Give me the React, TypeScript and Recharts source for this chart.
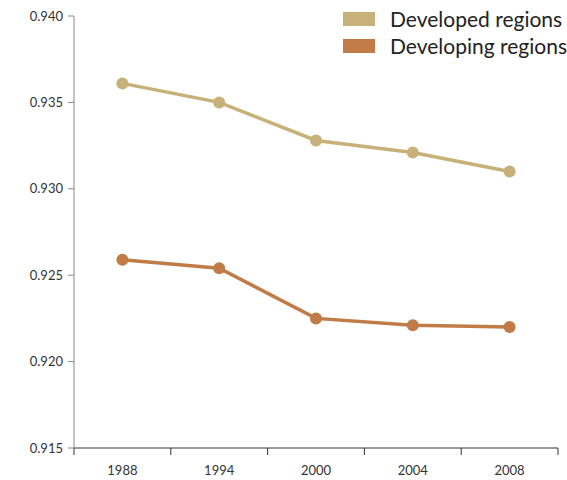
import React from "react";
import { LineChart, Line, XAxis, YAxis } from "recharts";

const categories = ["1988", "1994", "2000", "2004", "2008"];
const developed = [0.9361, 0.935, 0.9328, 0.9321, 0.931];
const developing = [0.9259, 0.9254, 0.9225, 0.9221, 0.922];
const yTicks = [0.915, 0.92, 0.925, 0.93, 0.935, 0.94];
const xBoundaries = [0, 1, 2, 3, 4, 5];
const seriesNames = ["Developed regions", "Developing regions"];

const DEV_COLOR = "#c8b179";
const DEVING_COLOR = "#c07b46";
const seriesColors = [DEV_COLOR, DEVING_COLOR];

const data = categories.map((c, i) => ({
  x: i + 0.5,
  cat: c,
  developed: developed[i],
  developing: developing[i],
}));

const XTick = (props: any) => {
  const { x, y, payload } = props;
  const i = payload.value;
  if (i >= categories.length) return null;
  const band = 484 / 5;
  return (
    <text x={x + band / 2} y={y + 18} textAnchor="middle" fill="#333" fontSize={13} fontFamily="Lato">
      {categories[i]}
    </text>
  );
};

const LegendBox = () => (
  <div
    style={{
      position: "absolute",
      top: 5,
      left: 343,
      fontFamily: "Lato",
      fontSize: 21,
      color: "#222",
    }}
  >
    {seriesNames.map((label, i) => (
      <div key={label} style={{ display: "flex", alignItems: "center", height: 27 }}>
        <div style={{ width: 32, height: 14, background: seriesColors[i], marginRight: 15 }} />
        <span>{label}</span>
      </div>
    ))}
  </div>
);

export default function App() {
  return (
    <div style={{ position: "absolute", left: 0, top: 0, width: 567, height: 480, background: "#fff" }}>
      <LineChart width={567} height={480} data={data} margin={{ top: 16, right: 9, bottom: 0, left: 0 }}>
        <XAxis
          dataKey="x"
          type="number"
          domain={[0, 5]}
          ticks={xBoundaries}
          tick={<XTick />}
          tickSize={7}
          stroke="#333"
          height={32}
          interval={0}
          allowDataOverflow
        />
        <YAxis
          type="number"
          domain={[0.915, 0.94]}
          ticks={yTicks}
          tickFormatter={(v: number) => v.toFixed(3)}
          width={74}
          tickSize={6}
          tickMargin={5}
          stroke="#888"
          tick={{ fill: "#333", fontSize: 13, fontFamily: "Lato" }}
          interval={0}
        />
        <Line
          dataKey="developed"
          stroke={DEV_COLOR}
          strokeWidth={3.5}
          dot={{ r: 6, fill: DEV_COLOR, stroke: "none" }}
          isAnimationActive={false}
        />
        <Line
          dataKey="developing"
          stroke={DEVING_COLOR}
          strokeWidth={3.5}
          dot={{ r: 6, fill: DEVING_COLOR, stroke: "none" }}
          isAnimationActive={false}
        />
      </LineChart>
      <LegendBox />
    </div>
  );
}
